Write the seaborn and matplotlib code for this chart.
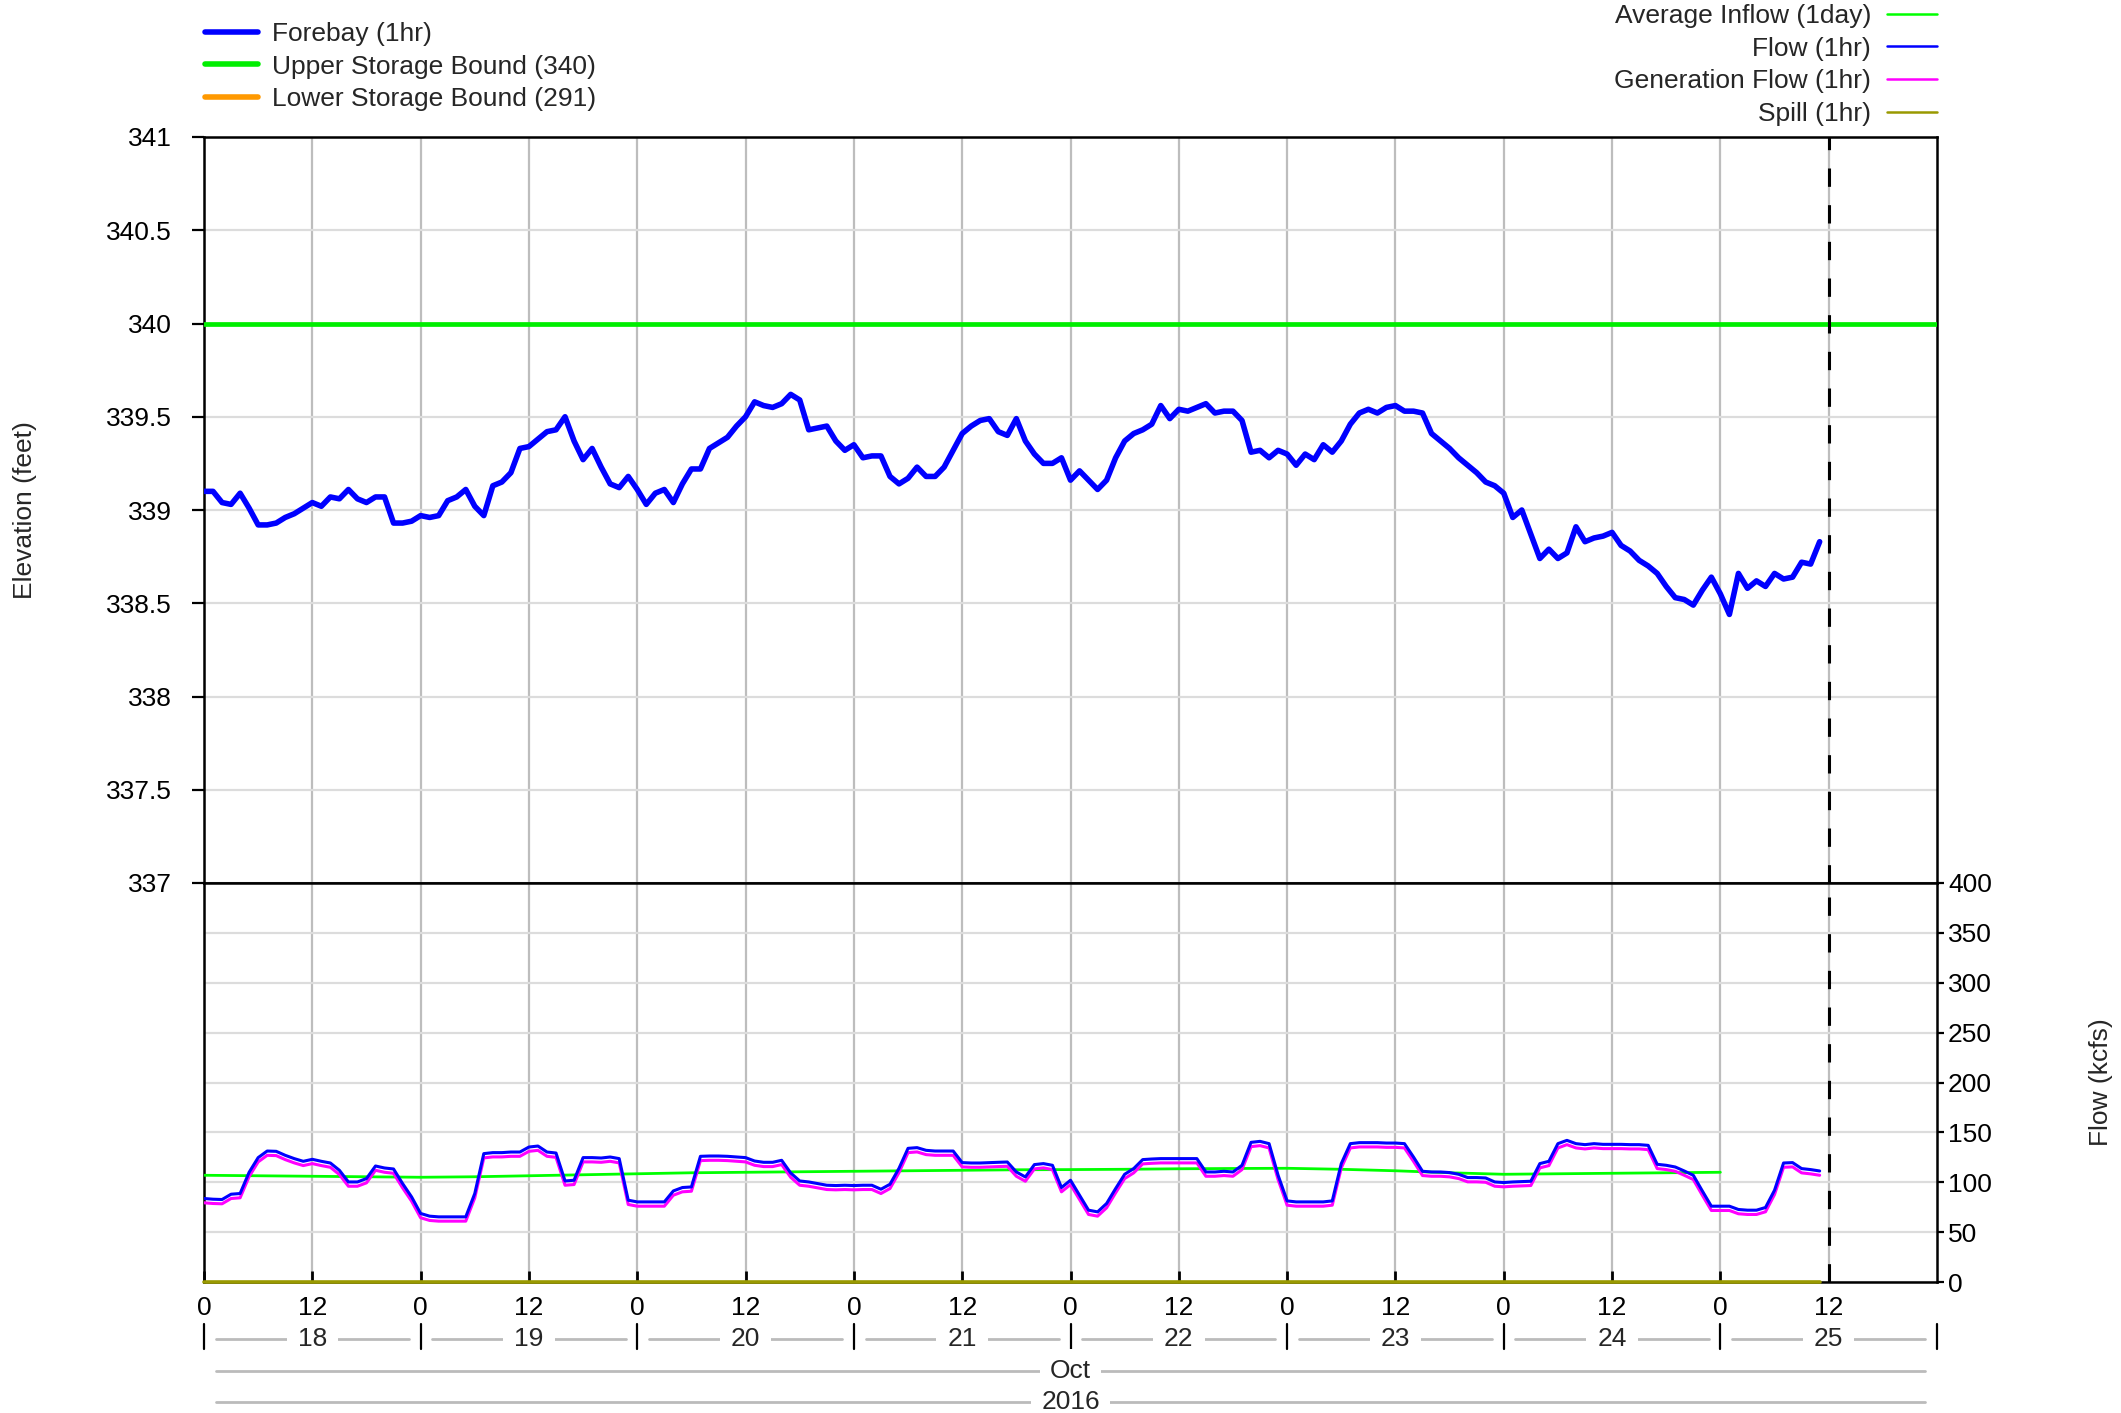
import pandas as pd
import seaborn as sns
import matplotlib.pyplot as plt
import matplotlib.dates as mdates
import matplotlib.transforms as mtransforms
from matplotlib.lines import Line2D
from matplotlib.ticker import FuncFormatter, MultipleLocator

# hourly forebay elevation (feet), Oct 18 00:00 .. Oct 25 11:00
forebay = [
    339.10, 339.10, 339.04, 339.03, 339.09, 339.01, 338.92, 338.92, 338.93, 338.96,
    338.98, 339.01, 339.04, 339.02, 339.07, 339.06, 339.11, 339.06, 339.04, 339.07,
    339.07, 338.93, 338.93, 338.94, 338.97, 338.96, 338.97, 339.05, 339.07, 339.11,
    339.02, 338.97, 339.13, 339.15, 339.20, 339.33, 339.34, 339.38, 339.42, 339.43,
    339.50, 339.37, 339.27, 339.33, 339.23, 339.14, 339.12, 339.18, 339.11, 339.03,
    339.09, 339.11, 339.04, 339.14, 339.22, 339.22, 339.33, 339.36, 339.39, 339.45,
    339.50, 339.58, 339.56, 339.55, 339.57, 339.62, 339.59, 339.43, 339.44, 339.45,
    339.37, 339.32, 339.35, 339.28, 339.29, 339.29, 339.18, 339.14, 339.17, 339.23,
    339.18, 339.18, 339.23, 339.32, 339.41, 339.45, 339.48, 339.49, 339.42, 339.40,
    339.49, 339.37, 339.30, 339.25, 339.25, 339.28, 339.16, 339.21, 339.16, 339.11,
    339.16, 339.28, 339.37, 339.41, 339.43, 339.46, 339.56, 339.49, 339.54, 339.53,
    339.55, 339.57, 339.52, 339.53, 339.53, 339.48, 339.31, 339.32, 339.28, 339.32,
    339.30, 339.24, 339.30, 339.27, 339.35, 339.31, 339.37, 339.46, 339.52, 339.54,
    339.52, 339.55, 339.56, 339.53, 339.53, 339.52, 339.41, 339.37, 339.33, 339.28,
    339.24, 339.20, 339.15, 339.13, 339.09, 338.96, 339.00, 338.87, 338.74, 338.79,
    338.74, 338.77, 338.91, 338.83, 338.85, 338.86, 338.88, 338.81, 338.78, 338.73,
    338.70, 338.66, 338.59, 338.53, 338.52, 338.49, 338.57, 338.64, 338.55, 338.44,
    338.66, 338.58, 338.62, 338.59, 338.66, 338.63, 338.64, 338.72, 338.71, 338.83,
]

# hourly flow (kcfs)
flow = [
    83.7, 83.0, 82.7, 88.0, 88.7, 110.0, 124.7, 131.3, 131.0, 127.0,
    123.7, 121.0, 123.0, 121.0, 119.3, 112.0, 100.3, 100.3, 103.7, 116.3,
    114.3, 113.3, 98.7, 85.3, 68.7, 66.0, 65.3, 65.3, 65.3, 65.3,
    88.7, 128.7, 129.7, 129.7, 130.3, 130.3, 135.3, 136.3, 130.3, 129.3,
    101.3, 102.0, 124.7, 124.7, 124.3, 125.3, 123.7, 82.0, 80.3, 80.3,
    80.3, 80.3, 91.3, 94.7, 95.3, 126.0, 126.3, 126.3, 126.0, 125.3,
    124.7, 121.3, 120.0, 120.0, 122.0, 109.3, 101.3, 100.3, 98.7, 97.0,
    96.7, 97.0, 96.7, 97.0, 97.0, 93.0, 98.0, 114.0, 134.0, 134.7,
    132.0, 131.3, 131.3, 131.3, 119.7, 119.3, 119.3, 119.7, 120.0, 120.3,
    110.3, 105.3, 117.7, 118.7, 117.0, 94.7, 102.0, 87.0, 72.0, 70.3,
    78.7, 93.7, 108.0, 113.7, 122.7, 123.3, 123.7, 123.7, 123.7, 123.7,
    123.7, 110.3, 110.3, 111.0, 110.3, 117.0, 140.0, 141.0, 138.7, 107.0,
    81.3, 80.3, 80.3, 80.3, 80.3, 81.3, 118.7, 138.7, 139.7, 139.7,
    139.7, 139.3, 139.3, 138.7, 125.3, 111.0, 110.3, 110.3, 109.7, 108.0,
    104.7, 104.7, 104.3, 100.3, 99.7, 100.3, 100.7, 101.0, 118.7, 121.0,
    138.7, 142.0, 138.7, 137.7, 138.7, 138.0, 138.0, 138.0, 137.7, 137.7,
    137.0, 118.0, 117.0, 115.3, 111.3, 107.0, 91.3, 76.0, 76.0, 76.0,
    72.7, 72.0, 72.0, 74.7, 92.0, 119.3, 119.7, 113.7, 112.7, 111.3,
]

# hourly generation flow (kcfs)
gen_flow = [
    79.4, 78.7, 78.4, 83.7, 84.4, 105.7, 120.4, 127.0, 126.7, 122.7,
    119.4, 116.7, 118.7, 116.7, 115.0, 107.7, 96.0, 96.0, 99.4, 112.0,
    110.0, 109.0, 94.4, 81.0, 64.4, 61.7, 61.0, 61.0, 61.0, 61.0,
    84.4, 124.4, 125.4, 125.4, 126.0, 126.0, 131.0, 132.0, 126.0, 125.0,
    97.0, 97.7, 120.4, 120.4, 120.0, 121.0, 119.4, 77.7, 76.0, 76.0,
    76.0, 76.0, 87.0, 90.4, 91.0, 121.7, 122.0, 122.0, 121.7, 121.0,
    120.4, 117.0, 115.7, 115.7, 117.7, 105.0, 97.0, 96.0, 94.4, 92.7,
    92.4, 92.7, 92.4, 92.7, 92.7, 88.7, 93.7, 109.7, 129.7, 130.4,
    127.7, 127.0, 127.0, 127.0, 115.4, 115.0, 115.0, 115.4, 115.7, 116.0,
    106.0, 101.0, 113.4, 114.4, 112.7, 90.4, 97.7, 82.7, 67.7, 66.0,
    74.4, 89.4, 103.7, 109.4, 118.4, 119.0, 119.4, 119.4, 119.4, 119.4,
    119.4, 106.0, 106.0, 106.7, 106.0, 112.7, 135.7, 136.7, 134.4, 102.7,
    77.0, 76.0, 76.0, 76.0, 76.0, 77.0, 114.4, 134.4, 135.4, 135.4,
    135.4, 135.0, 135.0, 134.4, 121.0, 106.7, 106.0, 106.0, 105.4, 103.7,
    100.4, 100.4, 100.0, 96.0, 95.4, 96.0, 96.4, 96.7, 114.4, 116.7,
    134.4, 137.7, 134.4, 133.4, 134.4, 133.7, 133.7, 133.7, 133.4, 133.4,
    132.7, 113.7, 112.7, 111.0, 107.0, 102.7, 87.0, 71.7, 71.7, 71.7,
    68.4, 67.7, 67.7, 70.4, 87.7, 115.0, 115.4, 109.4, 108.4, 107.0,
]

# 1-day average inflow, read every 6 hours, Oct 18 00:00 .. Oct 25 00:00
avg_inflow = [
    107.0, 106.5, 106.0, 105.5, 105.0, 105.5, 106.5, 107.5, 108.5, 109.5,
    110.0, 110.5, 111.0, 111.5, 112.0, 112.5, 112.7, 113.0, 113.5, 113.8,
    114.0, 113.0, 111.5, 109.5, 108.0, 108.5, 109.0, 109.5, 110.0,
]

spill = [0.0] * len(flow)

upper_bound = 340
lower_bound = 291

start = pd.Timestamp("2016-10-18 00:00")
end = pd.Timestamp("2016-10-26 00:00")
now = pd.Timestamp("2016-10-25 12:00")
hours = pd.date_range(start, periods=len(forebay), freq="h")
inflow_times = pd.date_range(start, periods=len(avg_inflow), freq="6h")

sns.set_theme(style="white")
plt.rcParams["font.family"] = ["Liberation Sans", "DejaVu Sans"]
FS = 19

W, H = 2121, 1413
fig = plt.figure(figsize=(W / 100, H / 100), dpi=100)
left, right = 204 / W, 1937 / W
ax_top = fig.add_axes([left, 1 - 883 / H, right - left, (883 - 137) / H])
ax_bot = fig.add_axes([left, 1 - 1282 / H, right - left, (1282 - 883) / H], sharex=ax_top)

# ---- elevation panel
ax_top.axhline(upper_bound, color="#00ee00", lw=3.4, zorder=3)
ax_top.axhline(lower_bound, color="#ff9900", lw=3.4, zorder=3)
sns.lineplot(x=hours, y=forebay, ax=ax_top, color="#0000ff", linewidth=4.0, zorder=4)
ax_top.set_ylim(337, 341)
ax_top.yaxis.set_major_locator(MultipleLocator(0.5))
ax_top.yaxis.set_major_formatter(FuncFormatter(lambda v, p: f"{v:g}"))
ax_top.set_ylabel("Elevation (feet)", fontsize=FS, labelpad=50)
ax_top.set_xlabel("")
ax_top.tick_params(axis="y", direction="out", length=9, width=1.6, pad=14,
                   labelsize=FS, left=True, colors="black")
ax_top.tick_params(axis="x", bottom=False, labelbottom=False)

# ---- flow panel
sns.lineplot(x=inflow_times, y=avg_inflow, ax=ax_bot, color="#00ff00", linewidth=2.0, zorder=3)
sns.lineplot(x=hours, y=gen_flow, ax=ax_bot, color="#ff00ff", linewidth=2.2, zorder=4)
sns.lineplot(x=hours, y=flow, ax=ax_bot, color="#0000ff", linewidth=2.2, zorder=5)
sns.lineplot(x=hours, y=spill, ax=ax_bot, color="#999900", linewidth=2.6, zorder=6, clip_on=False)
ax_bot.set_ylim(0, 400)
ax_bot.yaxis.set_major_locator(MultipleLocator(50))
ax_bot.yaxis.tick_right()
ax_bot.yaxis.set_label_position("right")
ax_bot.set_ylabel("Flow (kcfs)", fontsize=FS, labelpad=70)
ax_bot.set_xlabel("")
ax_bot.tick_params(axis="y", direction="out", length=5, width=1.6, pad=3,
                   labelsize=FS, right=True, left=False, colors="black")

ticks = pd.date_range(start, now, freq="12h")
ax_bot.set_xticks(ticks)
ax_bot.xaxis.set_major_formatter(FuncFormatter(lambda v, p: str(mdates.num2date(v).hour)))
ax_bot.tick_params(axis="x", direction="in", length=8, width=2, pad=10,
                   labelsize=FS, bottom=True, colors="black")
ax_bot.set_xlim(start, end)

for ax in (ax_top, ax_bot):
    ax.set_facecolor("white")
    ax.grid(axis="x", color="#bdbdbd", lw=1.6)
    ax.grid(axis="y", color="#dcdcdc", lw=1.6)
    ax.set_axisbelow(True)
    for s in ax.spines.values():
        s.set_visible(True)
        s.set_color("black")
        s.set_linewidth(1.8)
    ax.axvline(now, color="black", lw=2.2, dashes=(6, 6), zorder=7)

# ---- date rows under the axis
trans = mtransforms.blended_transform_factory(ax_bot.transData, fig.transFigure)
y_day, y_mon, y_year = 1 - 1339 / H, 1 - 1371 / H, 1 - 1402 / H
inset = 1.3 / 24
days = pd.date_range(start, end, freq="D")
for d in days:
    x = mdates.date2num(d)
    fig.add_artist(Line2D([x, x], [1 - 1324 / H, 1 - 1349 / H], transform=trans,
                          color="black", lw=1.6))
for d0, d1 in zip(days[:-1], days[1:]):
    x0, x1 = mdates.date2num(d0), mdates.date2num(d1)
    fig.add_artist(Line2D([x0 + inset, x1 - inset], [y_day, y_day], transform=trans,
                          color="#bbbbbb", lw=2))
    fig.text((x0 + x1) / 2, y_day, str(d0.day), transform=trans, ha="center", va="center",
             fontsize=FS, bbox=dict(facecolor="white", edgecolor="none", pad=8), zorder=5)

x_start, x_end = mdates.date2num(start), mdates.date2num(end)
for yy, txt in [(y_mon, start.strftime("%b")), (y_year, start.strftime("%Y"))]:
    fig.add_artist(Line2D([x_start + inset, x_end - inset], [yy, yy], transform=trans,
                          color="#bbbbbb", lw=2))
    fig.text((x_start + x_end) / 2, yy, txt, transform=trans, ha="center", va="center",
             fontsize=FS, bbox=dict(facecolor="white", edgecolor="none", pad=7), zorder=5)

# ---- legends
left_handles = [Line2D([], [], color="#0000ff", lw=4),
                Line2D([], [], color="#00ee00", lw=4),
                Line2D([], [], color="#ff9900", lw=4)]
left_labels = ["Forebay (1hr)", f"Upper Storage Bound ({upper_bound})",
               f"Lower Storage Bound ({lower_bound})"]
fig.legend(left_handles, left_labels, loc="upper left", bbox_to_anchor=(205 / W, 1 - 22 / H),
           frameon=False, fontsize=FS, handlelength=2.0, handletextpad=0.55,
           labelspacing=0.33, borderpad=0, borderaxespad=0)

right_handles = [Line2D([], [], color="#00ff00", lw=1.8),
                 Line2D([], [], color="#0000ff", lw=1.8),
                 Line2D([], [], color="#ff00ff", lw=1.8),
                 Line2D([], [], color="#999900", lw=1.8)]
right_labels = ["Average Inflow (1day)", "Flow (1hr)", "Generation Flow (1hr)", "Spill (1hr)"]
fig.legend(right_handles, right_labels, loc="upper right", bbox_to_anchor=(1937 / W, 1 - 4 / H),
           frameon=False, fontsize=FS, handlelength=1.9, handletextpad=0.6,
           labelspacing=0.33, borderpad=0, borderaxespad=0, markerfirst=False)

fig.savefig("out.png", dpi=100, facecolor="white")
